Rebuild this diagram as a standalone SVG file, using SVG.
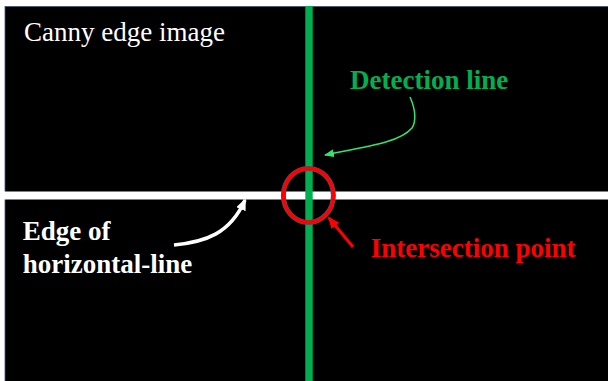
<svg xmlns="http://www.w3.org/2000/svg" width="608" height="381" viewBox="0 0 608 381">
  <style>
    .lbl { font-family: "Liberation Serif", "Times New Roman", serif; font-size: 27px; }
    .bold { font-weight: bold; }
  </style>
  <defs>
    <marker id="headGreen" markerWidth="10" markerHeight="8" refX="9" refY="4" orient="auto" markerUnits="userSpaceOnUse">
      <path d="M0,0 L10,4 L0,8 Z" fill="#2EE66E"/>
    </marker>
    <marker id="headWhite" markerWidth="12" markerHeight="10" refX="10" refY="5" orient="auto" markerUnits="userSpaceOnUse">
      <path d="M0,0 L12,5 L0,10 Z" fill="#FFFFFF"/>
    </marker>
    <marker id="headRed" markerWidth="12" markerHeight="10" refX="10" refY="5" orient="auto" markerUnits="userSpaceOnUse">
      <path d="M0,0 L12,5 L0,10 Z" fill="#FF0000"/>
    </marker>
  </defs>

  <!-- page background and edge image -->
  <rect x="0" y="0" width="608" height="381" fill="#FFFFFF"/>
  <rect id="canvas" x="5" y="6.5" width="604" height="376" fill="#000000" stroke="#41546E" stroke-width="0.8"/>

  <!-- detected horizontal edge -->
  <g id="horizontal-edge">
    <rect x="0" y="191.5" width="608" height="8" fill="#FFFFFF"/>
  </g>

  <!-- vertical detection line -->
  <g id="detection-line">
    <rect x="305.3" y="6" width="7.4" height="375" fill="#00B050"/>
  </g>

  <!-- intersection marker -->
  <g id="intersection">
    <ellipse cx="308.4" cy="195.4" rx="25" ry="27" fill="none" stroke="#44546A" stroke-width="5"/>
    <ellipse cx="308.4" cy="195.4" rx="25" ry="27" fill="none" stroke="#FF0000" stroke-width="3.6"/>
  </g>

  <!-- connectors -->
  <g id="connectors" fill="none">
    <path d="M410,97 C416,110 416,122 412,128 C400,142 370,146 325,155" stroke="#2EE66E" stroke-width="1.5" marker-end="url(#headGreen)"/>
    <path d="M174,245 C205,242 230,234 245,200" stroke="#FFFFFF" stroke-width="3.5" marker-end="url(#headWhite)"/>
    <path d="M353,247 L329,218" stroke="#FF0000" stroke-width="3" marker-end="url(#headRed)"/>
  </g>

  <!-- labels -->
  <g id="title">
    <text class="lbl" x="24" y="41" fill="#FFFFFF">Canny edge image</text>
  </g>
  <g id="label-detection">
    <text class="lbl bold" x="350" y="89.3" fill="#00B050">Detection line</text>
  </g>
  <g id="label-intersection">
    <text class="lbl bold" x="370.7" y="256.7" fill="#FF0000">Intersection point</text>
  </g>
  <g id="label-edge">
    <text class="lbl bold" x="22.7" y="240" fill="#FFFFFF">Edge of</text>
    <text class="lbl bold" x="22.7" y="273.3" fill="#FFFFFF">horizontal-line</text>
  </g>
</svg>
